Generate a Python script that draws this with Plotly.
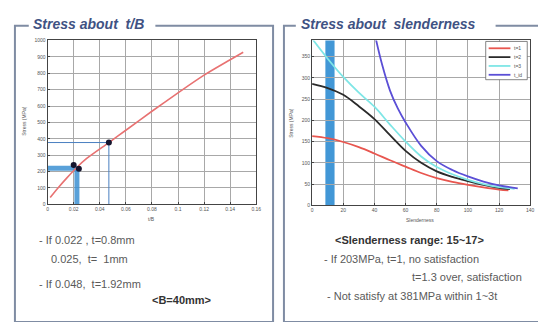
import plotly.graph_objects as go

W, H = 546, 322

# ---------------- data: left chart (stress vs t/B) ----------------
tb_x = [0.002, 0.008, 0.015, 0.022, 0.030, 0.047, 0.060, 0.080, 0.100, 0.120, 0.140, 0.150]
tb_stress = [42, 100, 163, 222, 280, 377, 452, 568, 680, 788, 882, 928]
pt_x = [0.020, 0.024, 0.047]
pt_y = [240, 217, 377]
band_h_x = [0, 0.0225]
band_h_y = [220, 220]
band_v_x = [0.0225, 0.0225]
band_v_y = [0, 220]
guide_x = [0, 0.047, 0.047]
guide_y = [377, 377, 0]
left_xticks = [0, 0.02, 0.04, 0.06, 0.08, 0.1, 0.12, 0.14, 0.16]
left_yticks = [0, 100, 200, 300, 400, 500, 600, 700, 800, 900, 1000]

# ---------------- data: right chart (stress vs slenderness) ----------------
sl_red_x = [0, 10, 20, 30, 40, 50, 60, 70, 80, 90, 100, 110, 120, 126]
sl_red_y = [163, 158, 149, 137, 122, 106, 91, 76, 64, 55, 48, 42, 37, 35]
sl_blk_x = [0, 10, 20, 30, 40, 50, 60, 70, 80, 90, 100, 110, 120, 127]
sl_blk_y = [286, 276, 260, 233, 203, 165, 128, 100, 80, 67, 57, 48, 41, 38]
sl_cyn_x = [0, 10, 20, 30, 40, 50, 60, 70, 80, 90, 100, 110, 120, 130]
sl_cyn_y = [392, 345, 302, 265, 232, 190, 150, 115, 90, 73, 60, 50, 43, 39]
sl_pur_x = [41, 45, 50, 55, 60, 70, 80, 90, 100, 110, 120, 132]
sl_pur_y = [390, 330, 270, 228, 195, 140, 104, 83, 68, 56, 47, 40]
series_names = ["t=1", "t=2", "t=3", "t_id"]
series_colors = ["#e8564f", "#2b2b2b", "#7fe6e6", "#5b4fd6"]
slender_band = [8.5, 14.4]
right_xticks = [0, 20, 40, 60, 80, 100, 120, 140]
right_yticks = [0, 50, 100, 150, 200, 250, 300, 350]


def px(x):
    return x / W


def py(y):
    return 1 - y / H


fig = go.Figure()

# left chart traces
fig.add_trace(go.Scatter(x=band_h_x, y=band_h_y, mode="lines", xaxis="x", yaxis="y",
                         line=dict(color="rgba(60,145,210,0.85)", width=5), showlegend=False))
fig.add_trace(go.Scatter(x=band_v_x, y=band_v_y, mode="lines", xaxis="x", yaxis="y",
                         line=dict(color="rgba(60,145,210,0.85)", width=5), showlegend=False))
fig.add_trace(go.Scatter(x=guide_x, y=guide_y, mode="lines", xaxis="x", yaxis="y",
                         line=dict(color="#4a7fc0", width=1), showlegend=False))
fig.add_trace(go.Scatter(x=tb_x, y=tb_stress, mode="lines", xaxis="x", yaxis="y",
                         line=dict(color="#e87272", width=1.6, shape="spline", smoothing=0.8),
                         showlegend=False))
fig.add_trace(go.Scatter(x=pt_x, y=pt_y, mode="markers", xaxis="x", yaxis="y",
                         marker=dict(color="#15152e", size=6), showlegend=False))

# right chart traces
for xs, ys, c in [(sl_red_x, sl_red_y, series_colors[0]),
                  (sl_blk_x, sl_blk_y, series_colors[1]),
                  (sl_cyn_x, sl_cyn_y, series_colors[2]),
                  (sl_pur_x, sl_pur_y, series_colors[3])]:
    fig.add_trace(go.Scatter(x=xs, y=ys, mode="lines", xaxis="x2", yaxis="y2",
                             line=dict(color=c, width=1.8, shape="spline"), showlegend=False))

tickfont = dict(size=5, color="#555555", family="Liberation Sans, Arial")
axis_common = dict(showline=True, linecolor="#444444", linewidth=1, mirror=True,
                   showgrid=True, gridcolor="#a8a8a8", gridwidth=1, zeroline=False,
                   ticks="inside", ticklen=2, tickcolor="#444444", tickfont=tickfont)

fig.update_layout(
    width=W, height=H, margin=dict(l=0, r=0, t=0, b=0),
    paper_bgcolor="white", plot_bgcolor="white",
    xaxis=dict(domain=[px(39), px(250)], range=[0, 0.16], tickvals=left_xticks,
               ticktext=[("%g" % v) for v in left_xticks], anchor="y", **axis_common),
    yaxis=dict(domain=[py(197), py(30)], range=[0, 1000], tickvals=left_yticks,
               anchor="x", **axis_common),
    xaxis2=dict(domain=[px(306.5), px(527)], range=[0, 140], tickvals=right_xticks,
                anchor="y2", **axis_common),
    yaxis2=dict(domain=[py(198), py(30)], range=[0, 388], tickvals=right_yticks,
                anchor="x2", **axis_common),
)

shapes = []
# slenderness band
shapes.append(dict(type="rect", xref="x2", yref="y2 domain", x0=slender_band[0], x1=slender_band[1],
                   y0=0, y1=1, fillcolor="rgba(45,140,210,0.9)", line=dict(width=0), layer="below"))

# panel frames
frame_color = "#7f8ca3"
left_path = "M {},{} L {},{} L {},{} L {},{} L {},{} L {},{}".format(
    px(20), py(15), px(6), py(15), px(6), py(317), px(267), py(317), px(267), py(15), px(148), py(15))
right_path = "M {},{} L {},{} L {},{} L {},{} L {},{} L {},{}".format(
    px(290), py(15), px(278), py(15), px(278), py(317), px(542), py(317), px(542), py(15), px(492), py(15))
for p in (left_path, right_path):
    shapes.append(dict(type="path", xref="paper", yref="paper", path=p,
                       line=dict(color=frame_color, width=2)))

# manual legend box
lx0, lx1, ly0, ly1 = 482, 524, 31, 70
shapes.append(dict(type="rect", xref="paper", yref="paper", x0=px(lx0), x1=px(lx1),
                   y0=py(ly1), y1=py(ly0), fillcolor="white", line=dict(color="#666666", width=0.8)))
row_y = [38, 47, 56, 65]
for yy, c in zip(row_y, series_colors):
    shapes.append(dict(type="line", xref="paper", yref="paper", x0=px(485), x1=px(507),
                       y0=py(yy), y1=py(yy), line=dict(color=c, width=1.8)))

annotations = []
for yy, name in zip(row_y, series_names):
    annotations.append(dict(xref="paper", yref="paper", x=px(509), y=py(yy), text=name,
                            showarrow=False, xanchor="left", yanchor="middle",
                            font=dict(size=5, color="#555555", family="Liberation Sans, Arial")))

title_font = dict(size=14, color="#3f5283", family="Liberation Sans, Arial")
annotations.append(dict(xref="paper", yref="paper", x=px(22), y=py(13), text="<b><i>Stress about  t/B</i></b>",
                        showarrow=False, xanchor="left", yanchor="middle", font=title_font))
annotations.append(dict(xref="paper", yref="paper", x=px(293), y=py(13),
                        text="<b><i>Stress about  slenderness</i></b>",
                        showarrow=False, xanchor="left", yanchor="middle", font=title_font))

small = dict(size=5, color="#555555", family="Liberation Sans, Arial")
annotations.append(dict(xref="paper", yref="paper", x=px(144), y=py(212), text="t/B",
                        showarrow=False, xanchor="center", yanchor="middle", font=small))
annotations.append(dict(xref="paper", yref="paper", x=px(416), y=py(213), text="Slenderness",
                        showarrow=False, xanchor="center", yanchor="middle", font=small))
annotations.append(dict(xref="paper", yref="paper", x=px(15), y=py(112), text="Stress (MPa)",
                        showarrow=False, textangle=-90, xanchor="center", yanchor="middle", font=small))
annotations.append(dict(xref="paper", yref="paper", x=px(285), y=py(114), text="Stress (MPa)",
                        showarrow=False, textangle=-90, xanchor="center", yanchor="middle", font=small))

body = dict(size=11, color="#5a5a5a", family="Liberation Sans, Arial")
texts = [
    (28, 233, "- If 0.022 , t=0.8mm", "left", False),
    (40, 253, "0.025,  t=  1mm", "left", False),
    (28, 278, "- If 0.048,  t=1.92mm", "left", False),
    (143, 294, "<B=40mm>", "left", True),
    (405, 233, "<Slenderness range: 15~17>", "center", True),
    (316, 253, "- If 203MPa, t=1, no satisfaction", "left", False),
    (405, 271, "t=1.3 over, satisfaction", "left", False),
    (320, 290, "- Not satisfy at 381MPa within 1~3t", "left", False),
]
for x, y, t, anc, bold in texts:
    t_html = t.replace("<", "&lt;").replace(">", "&gt;")
    if bold:
        t_html = "<b>" + t_html + "</b>"
    f = dict(body)
    if bold:
        f["color"] = "#333333"
    annotations.append(dict(xref="paper", yref="paper", x=px(x), y=py(y), text=t_html,
                            showarrow=False, xanchor=anc, yanchor="middle", font=f))

fig.update_layout(shapes=shapes, annotations=annotations)
fig.write_html("out.html")
